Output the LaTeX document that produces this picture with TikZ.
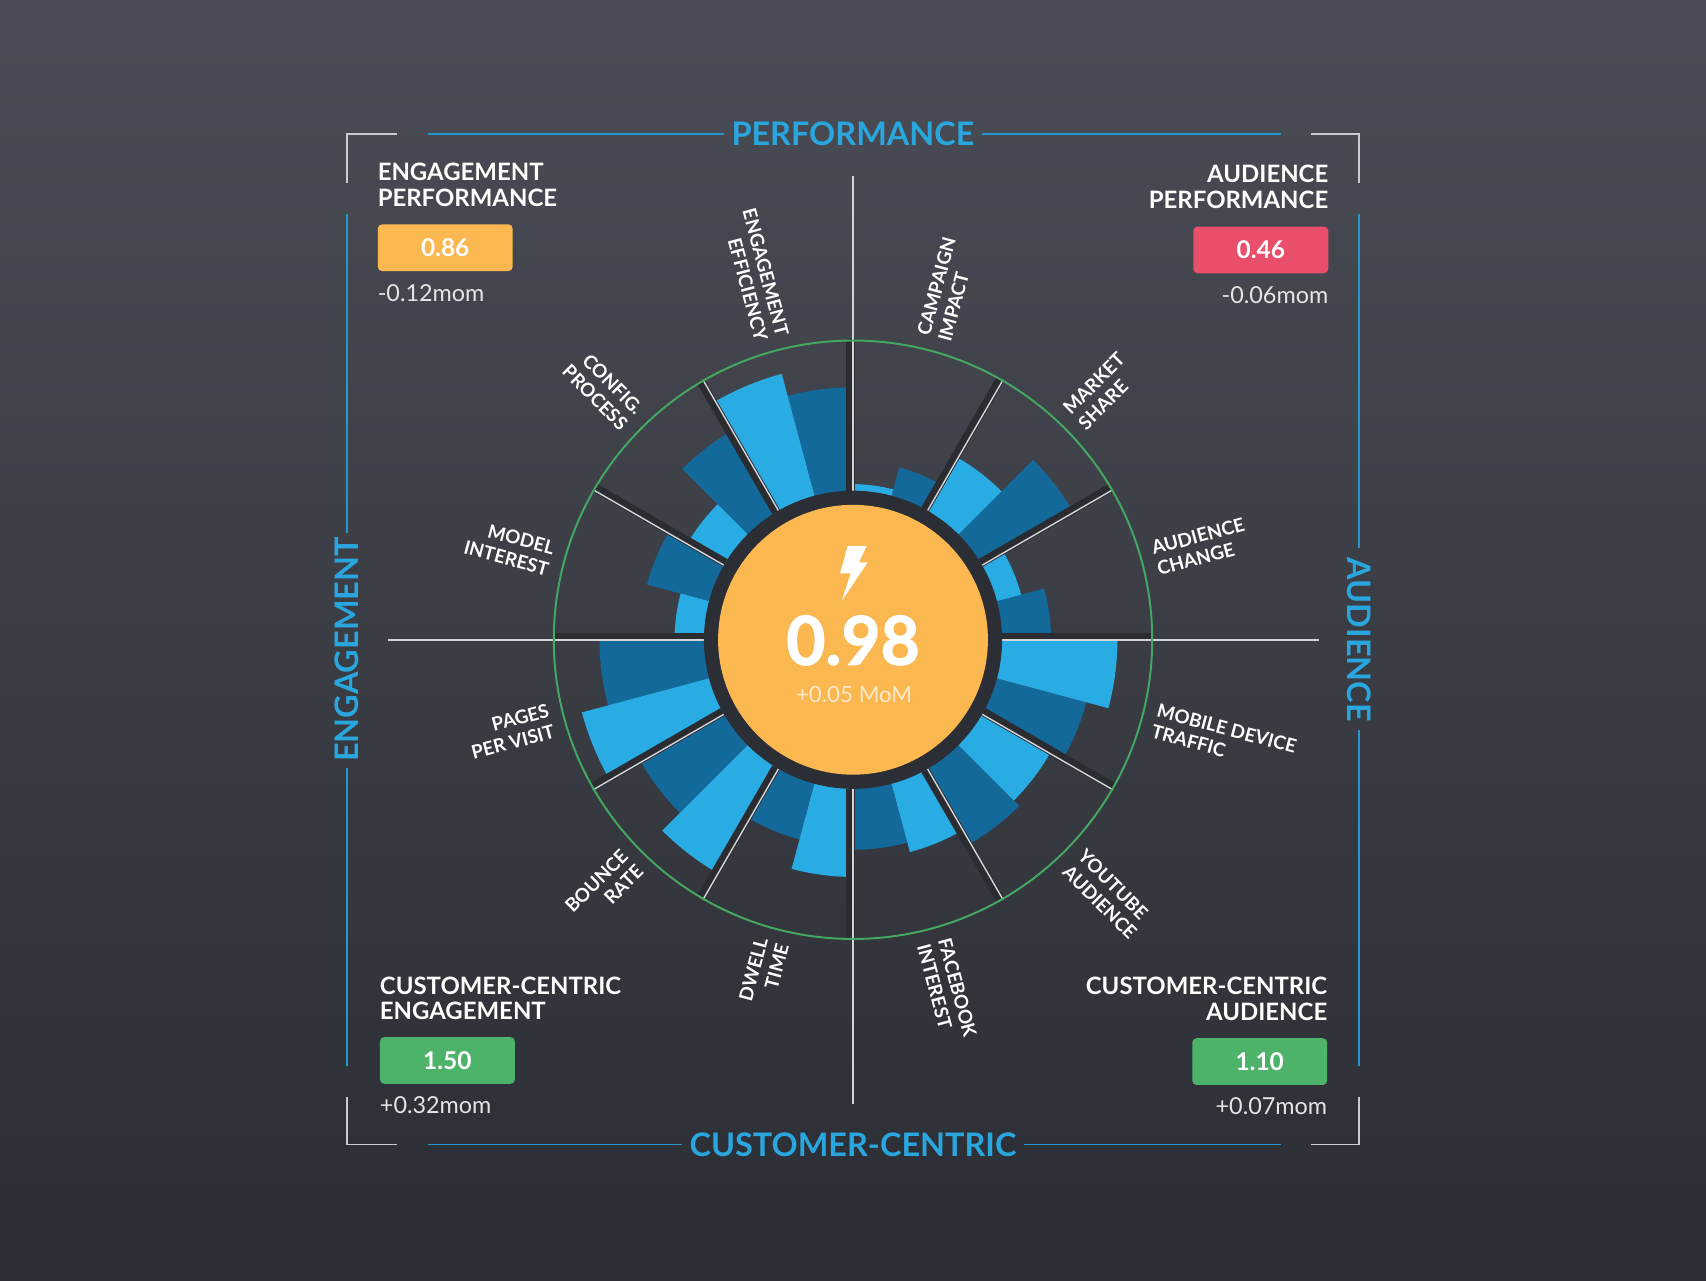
\documentclass[tikz,border=0pt]{standalone}
\usepackage{fontspec}
\setmainfont{Lato}
\newfontfamily\heavyfont{Lato}[BoldFeatures={FakeBold=1.6}]
\definecolor{bgtop}{HTML}{4A4D55}
\definecolor{bgbot}{HTML}{2A2D33}
\definecolor{ttlblue}{HTML}{2AA6DF}
\definecolor{lineblue}{HTML}{2696CF}
\definecolor{brk}{HTML}{C8CBD0}
\definecolor{lb}{HTML}{29ACE3}
\definecolor{db}{HTML}{14699B}
\definecolor{ringc}{HTML}{2B2E35}
\definecolor{orng}{HTML}{FBB851}
\definecolor{pinkc}{HTML}{E94E6B}
\definecolor{grnbox}{HTML}{4DB36B}
\definecolor{grnc}{HTML}{45A862}
\definecolor{shad}{HTML}{2A2C32}
\definecolor{axisc}{HTML}{D2D4D8}
\definecolor{momc}{HTML}{E4E5E7}
\definecolor{subc}{HTML}{FCE9CB}
\begin{document}
\begin{tikzpicture}[x=1pt,y=-1pt,
  ttl/.style={font=\fontsize{29.8}{32}\selectfont\bfseries, text=ttlblue, inner sep=0pt},
  brkline/.style={draw=brk, line width=1.6pt},
  bline/.style={draw=lineblue, line width=1.5pt},
  lbl/.style={font=\fontsize{17.3}{20}\selectfont\bfseries, text=white, inner sep=0pt},
  head/.style={font=\fontsize{22}{23.5}\selectfont\bfseries, text=white, inner sep=0pt},
  valbox/.style={rounded corners=4pt, minimum width=124pt, minimum height=43pt, inner sep=0pt,
     font=\fontsize{22.5}{24}\selectfont\bfseries, text=white},
  mom/.style={font=\fontsize{21.5}{23}\selectfont, text=momc, inner sep=0pt},
  lblR/.style={lbl, anchor=west, align=left},
  lblL/.style={lbl, anchor=east, align=right}]
\useasboundingbox (0,0) rectangle (1568,1177);
\shade[top color=bgtop,bottom color=bgbot] (0,0) rectangle (1568,1177);

% frame
\draw[brkline] (319,168) -- (319,123) -- (365,123);
\draw[brkline] (1205,123) -- (1249,123) -- (1249,168);
\draw[brkline] (1249,1008) -- (1249,1052) -- (1205,1052);
\draw[brkline] (365,1052) -- (319,1052) -- (319,1008);
\draw[bline] (393,123) -- (665,123);
\draw[bline] (903,123) -- (1177,123);
\draw[bline] (393,1052) -- (627,1052);
\draw[bline] (941,1052) -- (1177,1052);
\draw[bline] (319,197) -- (319,490);
\draw[bline] (319,706) -- (319,980);
\draw[bline] (1249,197) -- (1249,504);
\draw[bline] (1249,671) -- (1249,980);
\node[ttl] (tperf) at (784,123) {PERFORMANCE};
\node[ttl] (tcc) at (784,1052) {CUSTOMER-CENTRIC};
\node[ttl, rotate=-90] (taud) at (1249,588) {AUDIENCE};
\node[ttl, rotate=90] (teng) at (319,597) {ENGAGEMENT};

% chart
\begin{scope}[shift={(784,588)}, yscale=-1]
  \foreach \a/\r/\c in {0/182/db, 15/160/lb, 30/234/db, 45/193/lb, 60/164/db, 75/143/lb,
      90/232/db, 105/253/lb, 120/222/db, 135/176/lb, 150/196/db, 165/164/lb,
      180/233/db, 195/258/lb, 210/225/db, 225/248/lb, 240/190/db, 255/218/lb,
      270/193/db, 285/202/lb, 300/216/db, 315/209/lb, 330/222/db, 345/243/lb} {
    \pgfmathsetmacro\b{\a+15}
    \fill[\c] (\a:130) arc[start angle=\a, end angle=\b, radius=130]
       -- (\b:\r) arc[start angle=\b, end angle=\a, radius=\r] -- cycle;
  }
  \foreach \a in {0,30,...,330} {
    \pgfmathsetmacro\sg{(sin(\a)+cos(\a)) >= 0 ? 1 : -1}
    \pgfmathsetmacro\nx{-sin(\a)*\sg*2.5}
    \pgfmathsetmacro\ny{cos(\a)*\sg*2.5}
    \draw[shad, line width=8pt, shift={(\nx,\ny)}] (\a:137) -- (\a:276);
  }
  \foreach \a in {30,60,120,150,210,240,300,330} {
    \draw[axisc, line width=1.3pt] (\a:137) -- (\a:276);
  }
  \draw[axisc, line width=1.6pt] (-427,0) -- (428,0);
  \draw[axisc, line width=1.6pt] (0,426) -- (0,-427);
  \draw[grnc, line width=1.8pt] (0,0) circle[radius=275];
  \fill[ringc] (0,0) circle[radius=137];
  \fill[orng] (0,0) circle[radius=124];
\end{scope}

% center
\fill[white] (779.1,501.8) -- (796.6,501.8) -- (789.5,516.8) -- (797.5,516.8)
   -- (773.6,552.4) -- (781.9,527) -- (772.1,527) -- cycle;
\node[font=\fontsize{62}{64}\heavyfont\bfseries, text=white, inner sep=0pt, anchor=base] (score) at (784,611) {0.98};
\node[font=\fontsize{20.5}{22}\selectfont, text=subc, inner sep=0pt, anchor=base] (scoresub) at (785,646) {+0.05 MoM};

% labels
\node[lblL, rotate=-75] (l105) at ({784+287*cos(105)},{588-287*sin(105)}) {ENGAGEMENT\\EFFICIENCY};
\node[lblR, rotate=75] (l75) at ({784+287*cos(75)},{588-287*sin(75)}) {CAMPAIGN\\IMPACT};
\node[lblR, rotate=45] (l45) at ({784+287*cos(45)},{588-287*sin(45)}) {MARKET\\SHARE};
\node[lblR, rotate=15] (l15) at ({784+287*cos(15)},{588-287*sin(15)}) {AUDIENCE\\CHANGE};
\node[lblR, rotate=-15] (lm15) at ({784+287*cos(-15)},{588-287*sin(-15)}) {MOBILE DEVICE\\TRAFFIC};
\node[lblR, rotate=-45] (lm45) at ({784+287*cos(-45)},{588-287*sin(-45)}) {YOUTUBE\\AUDIENCE};
\node[lblR, rotate=-75] (lm75) at ({784+287*cos(-75)},{588-287*sin(-75)}) {FACEBOOK\\INTEREST};
\node[lblL, rotate=75] (l255) at ({784+287*cos(255)},{588-287*sin(255)}) {DWELL\\TIME};
\node[lblL, rotate=45] (l225) at ({784+287*cos(225)},{588-287*sin(225)}) {BOUNCE\\RATE};
\node[lblL, rotate=15] (l195) at ({784+287*cos(195)},{588-287*sin(195)}) {PAGES\\PER VISIT};
\node[lblL, rotate=-15] (l165) at ({784+287*cos(165)},{588-287*sin(165)}) {MODEL\\INTEREST};
\node[lblL, rotate=-45] (l135) at ({784+287*cos(135)},{588-287*sin(135)}) {CONFIG.\\PROCESS};

% corners
\node[head, anchor=base west] (tl1) at (347,166) {ENGAGEMENT};
\node[head, anchor=base west] (tl2) at (347,190) {PERFORMANCE};
\node[valbox, fill=orng, anchor=north west] (tlv) at (347,206) {0.86};
\node[mom, anchor=base west] (tlm) at (347,277) {-0.12mom};

\node[head, anchor=base east] (tr1) at (1221,168) {AUDIENCE};
\node[head, anchor=base east] (tr2) at (1221,192) {PERFORMANCE};
\node[valbox, fill=pinkc, anchor=north east] (trv) at (1221,208) {0.46};
\node[mom, anchor=base east] (trm) at (1221,279) {-0.06mom};

\node[head, anchor=base west] (bl1) at (349,914) {CUSTOMER-CENTRIC};
\node[head, anchor=base west] (bl2) at (349,937) {ENGAGEMENT};
\node[valbox, fill=grnbox, anchor=north west] (blv) at (349,953) {1.50};
\node[mom, anchor=base west] (blm) at (349,1023) {+0.32mom};

\node[head, anchor=base east] (br1) at (1220,914) {CUSTOMER-CENTRIC};
\node[head, anchor=base east] (br2) at (1220,938) {AUDIENCE};
\node[valbox, fill=grnbox, anchor=north east] (brv) at (1220,954) {1.10};
\node[mom, anchor=base east] (brm) at (1220,1024) {+0.07mom};
\end{tikzpicture}
\end{document}
